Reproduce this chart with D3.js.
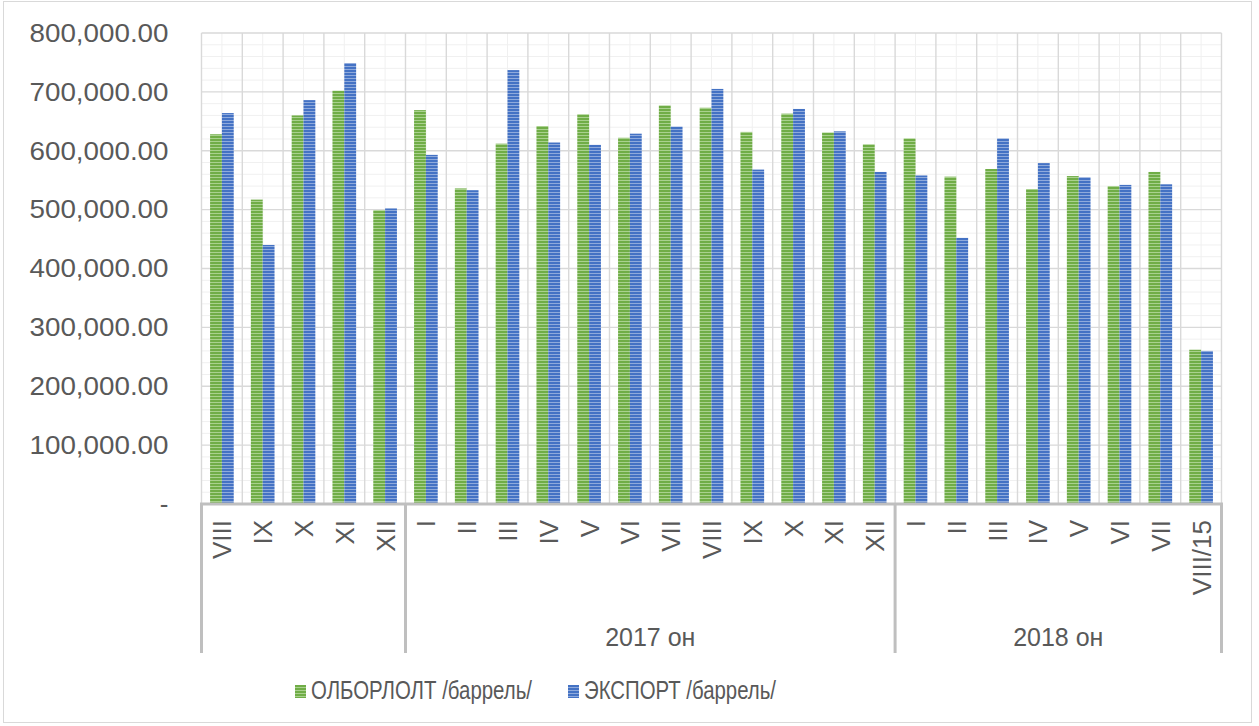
<!DOCTYPE html>
<html>
<head>
<meta charset="utf-8">
<script src="https://cdn.jsdelivr.net/npm/d3@7"></script>
<style>
  body { margin: 0; background: #fff; }
  text { font-family: "Liberation Sans", Arial, sans-serif; fill: #595959; }
</style>
</head>
<body>
<div id="chart"></div>
<script>
// Month labels, group (year) of each month
const months = ["VIII", "IX", "X", "XI", "XII",
    "I", "II", "III", "IV", "V", "VI", "VII", "VIII", "IX", "X", "XI", "XII",
    "I", "II", "III", "IV", "V", "VI", "VII", "VIII/15"];
const groups = ["", "", "", "", "",
    "2017 он", "2017 он", "2017 он", "2017 он", "2017 он", "2017 он", "2017 он", "2017 он", "2017 он", "2017 он", "2017 он", "2017 он",
    "2018 он", "2018 он", "2018 он", "2018 он", "2018 он", "2018 он", "2018 он", "2018 он"];
// Series values, barrels
const production = [628000, 517000, 660000, 702000, 499000,
    669000, 536000, 612000, 642000, 662000, 622000, 677000, 673000, 632000, 663000, 631000, 611000,
    621000, 556000, 569000, 535000, 557000, 540000, 564000, 262000];
const exports = [664000, 440000, 686000, 749000, 502000,
    593000, 533000, 737000, 614000, 610000, 629000, 641000, 705000, 568000, 671000, 633000, 564000,
    558000, 452000, 621000, 579000, 555000, 542000, 543000, 260000];
const seriesNames = ["ОЛБОРЛОЛТ /баррель/", "ЭКСПОРТ /баррель/"];
const yTicks = [0, 100000, 200000, 300000, 400000, 500000, 600000, 700000, 800000];

const width = 1259, height = 726;
const plot = { left: 201.5, right: 1221.5, top: 33, bottom: 504 };

const svg = d3.select("#chart").append("svg")
    .attr("width", width)
    .attr("height", height);

// --------------------------------------
// Striped fills (Excel "narrow horizontal" pattern)
const defs = svg.append("defs");
const fills = [
    { id: "pat0", base: "#70ad47", light: "#a9d18e" },
    { id: "pat1", base: "#4472c4", light: "#8faadc" }
];
fills.forEach(f => {
    const p = defs.append("pattern")
        .attr("id", f.id)
        .attr("patternUnits", "userSpaceOnUse")
        .attr("width", 6).attr("height", 3);
    p.append("rect").attr("width", 6).attr("height", 3).attr("fill", f.base);
    p.append("rect").attr("width", 6).attr("height", 1).attr("fill", f.light);
});

// outer chart border
svg.append("rect")
    .attr("x", 3.5).attr("y", 1.5)
    .attr("width", 1248).attr("height", 721)
    .attr("fill", "none").attr("stroke", "#d9d9d9");

const keys = months.map((m, i) => i);
const x = d3.scaleBand().domain(keys).range([plot.left, plot.right]).padding(0);
const y = d3.scaleLinear().domain([0, 800000]).range([plot.bottom, plot.top]);
const barW = x.bandwidth() * 0.29;

// --------------------------------------
// Gridlines
const grid = svg.append("g");
grid.selectAll(".minorY")
    .data(d3.range(20000, 800001, 20000).filter(v => v % 100000 !== 0))
    .join("line")
    .attr("x1", plot.left).attr("x2", plot.right)
    .attr("y1", d => y(d)).attr("y2", d => y(d))
    .attr("stroke", "#f0f0f0").attr("stroke-width", 1);
grid.selectAll(".minorX")
    .data(keys)
    .join("line")
    .attr("x1", d => x(d) + x.bandwidth() / 2).attr("x2", d => x(d) + x.bandwidth() / 2)
    .attr("y1", plot.top).attr("y2", plot.bottom)
    .attr("stroke", "#f0f0f0").attr("stroke-width", 1);
grid.selectAll(".majorY")
    .data(yTicks.slice(1))
    .join("line")
    .attr("x1", plot.left).attr("x2", plot.right)
    .attr("y1", d => y(d)).attr("y2", d => y(d))
    .attr("stroke", "#d9d9d9").attr("stroke-width", 1.4);
grid.selectAll(".majorX")
    .data(keys.concat([keys.length]))
    .join("line")
    .attr("x1", d => d < keys.length ? x(d) : plot.right)
    .attr("x2", d => d < keys.length ? x(d) : plot.right)
    .attr("y1", plot.top).attr("y2", plot.bottom)
    .attr("stroke", "#d9d9d9").attr("stroke-width", 1.4);

// --------------------------------------
// Bars
const series = [production, exports];
series.forEach((vals, s) => {
    svg.append("g").selectAll("rect")
        .data(vals)
        .join("rect")
        .attr("x", (d, i) => x(i) + x.bandwidth() / 2 - barW + s * barW)
        .attr("y", d => y(d))
        .attr("width", barW)
        .attr("height", d => y(0) - y(d))
        .attr("fill", "url(#pat" + s + ")");
});

// --------------------------------------
// Y axis labels
const yAxis = svg.append("g")
    .attr("transform", "translate(" + (plot.left - 33) + ",0)")
    .call(d3.axisLeft(y).tickValues(yTicks).tickSize(0)
        .tickFormat(d => d === 0 ? "-" : d3.format(",.2f")(d)));
yAxis.select(".domain").remove();
yAxis.selectAll("text")
    .attr("x", 0)
    .style("font-family", "'Liberation Sans', Arial, sans-serif")
    .style("font-size", "26px")
    .attr("fill", "#595959")
    .filter(d => d !== 0)
    .attr("textLength", 139)
    .attr("lengthAdjust", "spacingAndGlyphs");

// --------------------------------------
// X axis: month labels and year groups
svg.append("g").selectAll("text")
    .data(months)
    .join("text")
    .attr("transform", (d, i) => "translate(" + (x(i) + x.bandwidth() / 2 + 9.5) + "," + 520 + ") rotate(-90)")
    .attr("text-anchor", "end")
    .style("font-size", "26px")
    .text(d => d);

const groupList = [];
groups.forEach((g, i) => {
    const last = groupList[groupList.length - 1];
    if (last && last.name === g) last.end = i;
    else groupList.push({ name: g, start: i, end: i });
});
const axisColor = "#bfbfbf";
svg.append("g").selectAll("line")
    .data(groupList.map(g => g.start).concat([keys.length]))
    .join("line")
    .attr("x1", d => d < keys.length ? x(d) : plot.right)
    .attr("x2", d => d < keys.length ? x(d) : plot.right)
    .attr("y1", plot.bottom).attr("y2", 653)
    .attr("stroke", axisColor).attr("stroke-width", 3);
svg.append("line")
    .attr("x1", plot.left - 1.5).attr("x2", plot.right + 1.5)
    .attr("y1", plot.bottom).attr("y2", plot.bottom)
    .attr("stroke", axisColor).attr("stroke-width", 3);
svg.append("g").selectAll("text")
    .data(groupList)
    .join("text")
    .attr("x", d => (x(d.start) + x(d.end) + x.bandwidth()) / 2)
    .attr("y", 646)
    .attr("text-anchor", "middle")
    .style("font-size", "25px")
    .text(d => d.name);

// --------------------------------------
// Legend
const legendX = [295, 568];
const legendLen = [221, 192];
const legend = svg.append("g");
seriesNames.forEach((name, s) => {
    legend.append("rect")
        .attr("x", legendX[s]).attr("y", 685)
        .attr("width", 11).attr("height", 13)
        .attr("fill", "url(#pat" + s + ")");
    legend.append("text")
        .attr("x", legendX[s] + 16).attr("y", 699)
        .attr("textLength", legendLen[s])
        .attr("lengthAdjust", "spacingAndGlyphs")
        .style("font-size", "25px")
        .text(name);
});
</script>
</body>
</html>
